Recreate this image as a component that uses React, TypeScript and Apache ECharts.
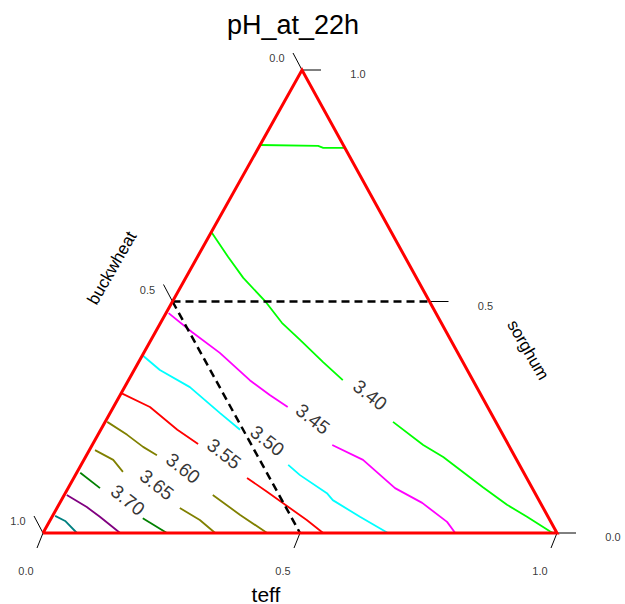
import React, { useEffect, useRef } from "react";
import * as echarts from "echarts";

// ---- Data (ternary coordinates: [teff, sorghum]; buckwheat = 1 - teff - sorghum) ----
const contourLevels = ["3.35", "3.40", "3.45", "3.50", "3.55", "3.60", "3.65", "3.70", "3.75", "3.80"];
const contourColors = ["#00ff00", "#00ff00", "#ff00ff", "#00ffff", "#ff0000", "#808000", "#808000", "#008000", "#800080", "#008080"];

const contour335 = [
  [[0, 0.838], [0.114, 0.836], [0.126, 0.832], [0.168, 0.832]],
];
const contour340 = [
  [[0, 0.65], [0.06, 0.596], [0.112, 0.551], [0.182, 0.499], [0.236, 0.454], [0.29, 0.417], [0.359, 0.369], [0.417, 0.33]],
  [[0.56, 0.24], [0.644, 0.19], [0.696, 0.164], [0.806, 0.099], [0.872, 0.061], [0.924, 0.035], [0.984, 0.004], [0.992, 0]],
];
const contour345 = [
  [[0.005, 0.475], [0.071, 0.434], [0.148, 0.389], [0.236, 0.33], [0.291, 0.298], [0.339, 0.272]],
  [[0.467, 0.19], [0.543, 0.158], [0.636, 0.097], [0.705, 0.065], [0.774, 0.024], [0.802, 0]],
];
const contour350 = [
  [[0, 0.384], [0.05, 0.352], [0.127, 0.315], [0.214, 0.259], [0.271, 0.223]],
  [[0.403, 0.147], [0.437, 0.125], [0.509, 0.086], [0.528, 0.071], [0.599, 0.035], [0.671, 0]],
];
const contour355 = [
  [[0, 0.302], [0.071, 0.272], [0.149, 0.223], [0.205, 0.192]],
  [[0.337, 0.119], [0.391, 0.089], [0.453, 0.054], [0.499, 0.028], [0.545, 0]],
];
const contour360 = [
  [[0.004, 0.24], [0.057, 0.212], [0.101, 0.186], [0.137, 0.168]],
  [[0.289, 0.082], [0.364, 0.039], [0.436, 0]],
];
const contour365 = [
  [[0.011, 0.179], [0.057, 0.158], [0.089, 0.132]],
  [[0.239, 0.054], [0.291, 0.028], [0.335, 0]],
];
const contour370 = [
  [[0.007, 0.13], [0.062, 0.097]],
  [[0.178, 0.032], [0.241, 0]],
];
const contour375 = [[[0.005, 0.082], [0.057, 0.056], [0.093, 0.035], [0.15, 0]]];
const contour380 = [[[0.005, 0.037], [0.03, 0.026], [0.066, 0]]];

const contours = [contour335, contour340, contour345, contour350, contour355, contour360, contour365, contour370, contour375, contour380];

const labelLevels = ["3.40", "3.45", "3.50", "3.55", "3.60", "3.65", "3.70"];
const labelPositions = [[0.486, 0.298], [0.401, 0.246], [0.336, 0.199], [0.266, 0.171], [0.202, 0.14], [0.169, 0.104], [0.129, 0.071]];

const triangle = [[0, 0], [1, 0], [0, 1], [0, 0]];
const dashedSorghumHalf = [[0, 0.5], [0.5, 0.5]];
const dashedBuckwheatHalf = [[0, 0.5], [0.5, 0]];

const tickValues = [0, 0.5, 1];
const tickLabels = ["0.0", "0.5", "1.0"];
const axisNames = { bottom: "teff", left: "buckwheat", right: "sorghum" };
const titleText = "pH_at_22h";

// ---- Layout (pixel geometry of the triangle) ----
const BL_X = 43;
const BL_Y = 533;
const BASE_W = 514;
const TOP_DX = 259;
const HEIGHT = 463;

function proj(p: number[]): number[] {
  const t = p[0];
  const s = p[1];
  return [BL_X + BASE_W * t + TOP_DX * s, BL_Y - HEIGHT * s];
}

const FONT = "Liberation Sans, Arial, sans-serif";

export default function App() {
  const ref = useRef<HTMLDivElement>(null);
  useEffect(() => {
    if (!ref.current) return;
    const chart = echarts.init(ref.current, undefined, { renderer: "svg" });
    const series: any[] = [];

    contours.forEach((segs, ci) => {
      segs.forEach((seg) => {
        series.push({
          type: "line",
          name: contourLevels[ci],
          data: seg.map(proj),
          symbol: "none",
          showSymbol: false,
          silent: true,
          z: 2,
          lineStyle: { color: contourColors[ci], width: 1.8 },
        });
      });
    });

    // dashed reference lines
    [dashedSorghumHalf, dashedBuckwheatHalf].forEach((d) => {
      series.push({
        type: "line",
        data: d.map(proj),
        symbol: "none",
        silent: true,
        z: 3,
        lineStyle: { color: "#000", width: 2.5, type: [8, 5] },
      });
    });

    // ticks
    const tickSegs: { p: number[]; d: number[] }[] = [];
    tickValues.forEach((v) => {
      tickSegs.push({ p: [0, 1 - v], d: [-9, -17] }); // buckwheat (left)
      tickSegs.push({ p: [v, 0], d: [-6, 15] }); // teff (bottom)
      tickSegs.push({ p: [1 - v, v], d: [19, 0] }); // sorghum (right)
    });
    tickSegs.forEach((tk) => {
      const a = proj(tk.p);
      series.push({
        type: "line",
        data: [a, [a[0] + tk.d[0], a[1] + tk.d[1]]],
        symbol: "none",
        silent: true,
        z: 3,
        lineStyle: { color: "#000", width: 1 },
      });
    });

    // triangle
    series.push({
      type: "line",
      data: triangle.map(proj),
      symbol: "none",
      silent: true,
      z: 4,
      lineStyle: { color: "#ff0000", width: 3, join: "miter" },
    });

    // contour labels
    series.push({
      type: "scatter",
      data: labelPositions.map(proj),
      symbolSize: 1,
      silent: true,
      z: 5,
      itemStyle: { color: "rgba(0,0,0,0)" },
      label: {
        show: true,
        position: "inside",
        rotate: -38,
        fontSize: 19,
        fontFamily: FONT,
        color: "#000",
        formatter: (p: any) => labelLevels[p.dataIndex],
      },
    });

    // tick labels
    const tickLabelSeries = (pts: number[][], offset: number[]) => ({
      type: "scatter",
      data: pts.map(proj),
      symbolSize: 1,
      silent: true,
      z: 5,
      itemStyle: { color: "rgba(0,0,0,0)" },
      label: {
        show: true,
        position: "inside",
        offset,
        fontSize: 11,
        fontFamily: FONT,
        color: "#000",
        formatter: (p: any) => tickLabels[p.dataIndex],
      },
    });
    series.push(tickLabelSeries(tickValues.map((v) => [0, 1 - v]), [-25, -12]));
    series.push(tickLabelSeries(tickValues.map((v) => [v, 0]), [-17, 38]));
    series.push(tickLabelSeries(tickValues.map((v) => [1 - v, v]), [56, 4]));

    chart.setOption({
      animation: false,
      grid: { left: 0, right: 0, top: 0, bottom: 0 },
      xAxis: { type: "value", min: 0, max: 625, show: false },
      yAxis: { type: "value", min: 0, max: 604, inverse: true, show: false },
      series,
      graphic: [
        {
          type: "text",
          x: 293,
          y: 25,
          style: { text: titleText, fontSize: 27, fontFamily: FONT, fill: "#000", textAlign: "center", textVerticalAlign: "middle" },
        },
        {
          type: "text",
          x: 266,
          y: 594,
          style: { text: axisNames.bottom, fontSize: 21, fontFamily: FONT, fill: "#000", textAlign: "center", textVerticalAlign: "middle" },
        },
        {
          type: "text",
          x: 112,
          y: 268,
          rotation: Math.PI / 3,
          style: { text: axisNames.left, fontSize: 17, fontFamily: FONT, fill: "#000", textAlign: "center", textVerticalAlign: "middle" },
        },
        {
          type: "text",
          x: 528,
          y: 350,
          rotation: -Math.PI / 3,
          style: { text: axisNames.right, fontSize: 17, fontFamily: FONT, fill: "#000", textAlign: "center", textVerticalAlign: "middle" },
        },
      ],
    });
    return () => chart.dispose();
  }, []);
  return <div ref={ref} style={{ position: "absolute", left: 0, top: 0, width: 625, height: 604, background: "#fff" }} />;
}
